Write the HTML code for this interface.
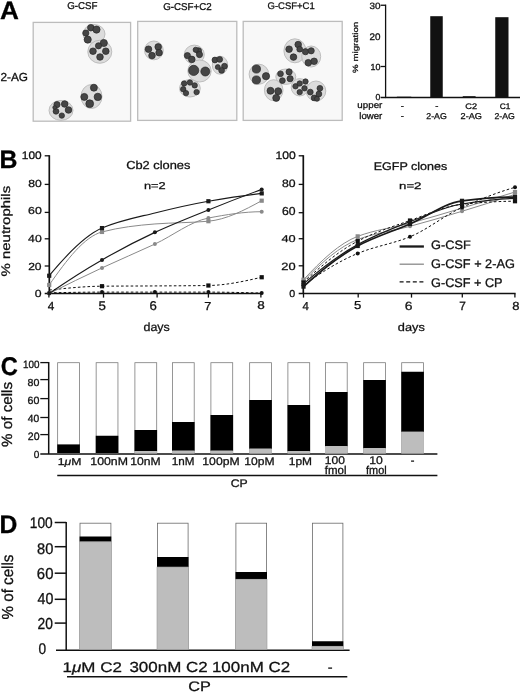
<!DOCTYPE html>
<html><head><meta charset="utf-8"><title>Figure</title>
<style>html,body{margin:0;padding:0;background:#fff;}svg{display:block;filter:grayscale(1);}</style></head>
<body><svg width="520" height="695" viewBox="0 0 520 695">
<defs><filter id="blur" x="-5%" y="-5%" width="110%" height="110%"><feGaussianBlur stdDeviation="0.45"/></filter></defs>
<rect width="520" height="695" fill="#fff"/>
<rect x="33.2" y="22.4" width="97.4" height="98.8" fill="#f8f8f8" stroke="#bcbcbc" stroke-width="1.3"/>
<rect x="137.7" y="21.4" width="99.1" height="99.0" fill="#f8f8f8" stroke="#bcbcbc" stroke-width="1.3"/>
<rect x="243.2" y="21.4" width="99.0" height="99.0" fill="#f8f8f8" stroke="#bcbcbc" stroke-width="1.3"/>
<g filter="url(#blur)">
<ellipse cx="94" cy="34" rx="11" ry="9.5" fill="#dcdcdc" stroke="#bdbdbd" stroke-width="1"/>
<ellipse cx="99.8" cy="51.75" rx="12" ry="11.5" fill="#dcdcdc" stroke="#bdbdbd" stroke-width="1"/>
<ellipse cx="91.5" cy="96.5" rx="10.5" ry="12" fill="#dcdcdc" stroke="#bdbdbd" stroke-width="1"/>
<ellipse cx="61" cy="110.4" rx="12" ry="10" fill="#dcdcdc" stroke="#bdbdbd" stroke-width="1"/>
<ellipse cx="153.9" cy="50.4" rx="9.4" ry="9.4" fill="#dcdcdc" stroke="#bdbdbd" stroke-width="1"/>
<ellipse cx="194.3" cy="54.6" rx="10" ry="9.5" fill="#dcdcdc" stroke="#bdbdbd" stroke-width="1"/>
<ellipse cx="199.5" cy="71" rx="11.7" ry="11" fill="#dcdcdc" stroke="#bdbdbd" stroke-width="1"/>
<ellipse cx="220" cy="65.2" rx="7.7" ry="9" fill="#dcdcdc" stroke="#bdbdbd" stroke-width="1"/>
<ellipse cx="189.9" cy="88.3" rx="10.4" ry="8.7" fill="#dcdcdc" stroke="#bdbdbd" stroke-width="1"/>
<ellipse cx="258.9" cy="74.2" rx="9.8" ry="10" fill="#dcdcdc" stroke="#bdbdbd" stroke-width="1"/>
<ellipse cx="273.7" cy="90.2" rx="9.3" ry="10.5" fill="#dcdcdc" stroke="#bdbdbd" stroke-width="1"/>
<ellipse cx="294.9" cy="50.8" rx="11" ry="12" fill="#dcdcdc" stroke="#bdbdbd" stroke-width="1"/>
<ellipse cx="311.2" cy="56.5" rx="9.5" ry="10.5" fill="#dcdcdc" stroke="#bdbdbd" stroke-width="1"/>
<ellipse cx="285.8" cy="76.7" rx="10" ry="7.7" fill="#dcdcdc" stroke="#bdbdbd" stroke-width="1"/>
<ellipse cx="299.7" cy="87.3" rx="8.5" ry="8.7" fill="#dcdcdc" stroke="#bdbdbd" stroke-width="1"/>
<ellipse cx="316" cy="91" rx="9.8" ry="10" fill="#dcdcdc" stroke="#bdbdbd" stroke-width="1"/>
<circle cx="90.8" cy="27.7" r="3.30" fill="#454545" stroke="#262626" stroke-width="0.7"/>
<circle cx="96.5" cy="29.6" r="3.60" fill="#454545" stroke="#262626" stroke-width="0.7"/>
<circle cx="85.8" cy="33.1" r="3.10" fill="#454545" stroke="#262626" stroke-width="0.7"/>
<circle cx="87.7" cy="39.6" r="3.60" fill="#454545" stroke="#262626" stroke-width="0.7"/>
<circle cx="103.8" cy="43" r="3.60" fill="#454545" stroke="#262626" stroke-width="0.7"/>
<circle cx="98.5" cy="45.8" r="3.10" fill="#454545" stroke="#262626" stroke-width="0.7"/>
<circle cx="93" cy="51.2" r="3.30" fill="#454545" stroke="#262626" stroke-width="0.7"/>
<circle cx="105.8" cy="51.2" r="3.30" fill="#454545" stroke="#262626" stroke-width="0.7"/>
<circle cx="100" cy="57" r="3.30" fill="#454545" stroke="#262626" stroke-width="0.7"/>
<circle cx="93.9" cy="87.7" r="3.50" fill="#454545" stroke="#262626" stroke-width="0.7"/>
<circle cx="84.3" cy="96.9" r="3.50" fill="#454545" stroke="#262626" stroke-width="0.7"/>
<circle cx="97.8" cy="96.9" r="3.70" fill="#454545" stroke="#262626" stroke-width="0.7"/>
<circle cx="89.7" cy="103.7" r="3.90" fill="#454545" stroke="#262626" stroke-width="0.7"/>
<circle cx="57" cy="104.6" r="3.10" fill="#454545" stroke="#262626" stroke-width="0.7"/>
<circle cx="64.7" cy="104" r="3.30" fill="#454545" stroke="#262626" stroke-width="0.7"/>
<circle cx="68.5" cy="110" r="3.30" fill="#454545" stroke="#262626" stroke-width="0.7"/>
<circle cx="56" cy="111.3" r="2.90" fill="#454545" stroke="#262626" stroke-width="0.7"/>
<circle cx="61.8" cy="115.6" r="2.70" fill="#454545" stroke="#262626" stroke-width="0.7"/>
<circle cx="54.7" cy="107.5" r="1.90" fill="#454545" stroke="#262626" stroke-width="0.7"/>
<circle cx="148.5" cy="49.2" r="3.30" fill="#454545" stroke="#262626" stroke-width="0.7"/>
<circle cx="152" cy="55.6" r="3.30" fill="#454545" stroke="#262626" stroke-width="0.7"/>
<circle cx="158.2" cy="46.9" r="3.30" fill="#454545" stroke="#262626" stroke-width="0.7"/>
<circle cx="159.1" cy="52.7" r="3.30" fill="#454545" stroke="#262626" stroke-width="0.7"/>
<circle cx="187.4" cy="55.6" r="3.10" fill="#454545" stroke="#262626" stroke-width="0.7"/>
<circle cx="191.8" cy="59.4" r="3.30" fill="#454545" stroke="#262626" stroke-width="0.7"/>
<circle cx="198.5" cy="50.8" r="3.10" fill="#454545" stroke="#262626" stroke-width="0.7"/>
<circle cx="199.5" cy="54.6" r="3.10" fill="#454545" stroke="#262626" stroke-width="0.7"/>
<circle cx="195.7" cy="49.8" r="2.60" fill="#454545" stroke="#262626" stroke-width="0.7"/>
<circle cx="193.7" cy="70.4" r="5.10" fill="#454545" stroke="#262626" stroke-width="0.7"/>
<circle cx="205.3" cy="71.5" r="4.50" fill="#454545" stroke="#262626" stroke-width="0.7"/>
<circle cx="214.9" cy="60" r="2.90" fill="#454545" stroke="#262626" stroke-width="0.7"/>
<circle cx="219.7" cy="59.4" r="2.90" fill="#454545" stroke="#262626" stroke-width="0.7"/>
<circle cx="224.5" cy="66.2" r="2.90" fill="#454545" stroke="#262626" stroke-width="0.7"/>
<circle cx="221.6" cy="70.4" r="2.90" fill="#454545" stroke="#262626" stroke-width="0.7"/>
<circle cx="217.8" cy="67.1" r="2.50" fill="#454545" stroke="#262626" stroke-width="0.7"/>
<circle cx="184.1" cy="83.5" r="2.70" fill="#454545" stroke="#262626" stroke-width="0.7"/>
<circle cx="189.9" cy="82.5" r="2.70" fill="#454545" stroke="#262626" stroke-width="0.7"/>
<circle cx="194.7" cy="85.4" r="2.70" fill="#454545" stroke="#262626" stroke-width="0.7"/>
<circle cx="183.2" cy="89.2" r="2.70" fill="#454545" stroke="#262626" stroke-width="0.7"/>
<circle cx="186" cy="93.1" r="2.70" fill="#454545" stroke="#262626" stroke-width="0.7"/>
<circle cx="196.6" cy="92.1" r="2.70" fill="#454545" stroke="#262626" stroke-width="0.7"/>
<circle cx="256.4" cy="69" r="4.10" fill="#454545" stroke="#262626" stroke-width="0.7"/>
<circle cx="266" cy="76.2" r="3.60" fill="#454545" stroke="#262626" stroke-width="0.7"/>
<circle cx="256.4" cy="80" r="4.10" fill="#454545" stroke="#262626" stroke-width="0.7"/>
<circle cx="270.5" cy="90.8" r="3.50" fill="#454545" stroke="#262626" stroke-width="0.7"/>
<circle cx="278.2" cy="91.2" r="3.50" fill="#454545" stroke="#262626" stroke-width="0.7"/>
<circle cx="276.2" cy="97.9" r="3.50" fill="#454545" stroke="#262626" stroke-width="0.7"/>
<circle cx="289.1" cy="49.2" r="3.30" fill="#454545" stroke="#262626" stroke-width="0.7"/>
<circle cx="298.2" cy="44.6" r="3.30" fill="#454545" stroke="#262626" stroke-width="0.7"/>
<circle cx="299.7" cy="49.2" r="2.90" fill="#454545" stroke="#262626" stroke-width="0.7"/>
<circle cx="293.5" cy="57.1" r="3.30" fill="#454545" stroke="#262626" stroke-width="0.7"/>
<circle cx="305.5" cy="51.7" r="3.10" fill="#454545" stroke="#262626" stroke-width="0.7"/>
<circle cx="311.2" cy="50.8" r="3.10" fill="#454545" stroke="#262626" stroke-width="0.7"/>
<circle cx="308.3" cy="62.7" r="3.30" fill="#454545" stroke="#262626" stroke-width="0.7"/>
<circle cx="314.1" cy="61.3" r="3.30" fill="#454545" stroke="#262626" stroke-width="0.7"/>
<circle cx="280.5" cy="73.8" r="2.90" fill="#454545" stroke="#262626" stroke-width="0.7"/>
<circle cx="289.1" cy="71.9" r="3.10" fill="#454545" stroke="#262626" stroke-width="0.7"/>
<circle cx="290.1" cy="78.7" r="3.10" fill="#454545" stroke="#262626" stroke-width="0.7"/>
<circle cx="282.4" cy="80.6" r="2.90" fill="#454545" stroke="#262626" stroke-width="0.7"/>
<circle cx="295.5" cy="86.3" r="2.70" fill="#454545" stroke="#262626" stroke-width="0.7"/>
<circle cx="299.7" cy="83.5" r="2.70" fill="#454545" stroke="#262626" stroke-width="0.7"/>
<circle cx="305.5" cy="81.5" r="2.70" fill="#454545" stroke="#262626" stroke-width="0.7"/>
<circle cx="299.7" cy="92.1" r="2.70" fill="#454545" stroke="#262626" stroke-width="0.7"/>
<circle cx="304.5" cy="88.3" r="2.70" fill="#454545" stroke="#262626" stroke-width="0.7"/>
<circle cx="310.3" cy="92.1" r="2.90" fill="#454545" stroke="#262626" stroke-width="0.7"/>
<circle cx="314.1" cy="97.9" r="2.90" fill="#454545" stroke="#262626" stroke-width="0.7"/>
<circle cx="318.9" cy="94" r="2.90" fill="#454545" stroke="#262626" stroke-width="0.7"/>
<circle cx="319.9" cy="88.3" r="2.90" fill="#454545" stroke="#262626" stroke-width="0.7"/>
<circle cx="317" cy="98.8" r="2.50" fill="#454545" stroke="#262626" stroke-width="0.7"/>
</g>
<path d="M385.6 4.6V98.1" stroke="#111" stroke-width="1.3" fill="none"/>
<path d="M380.6 5.25H385.6" stroke="#111" stroke-width="1.3"/>
<path d="M380.6 66.5H385.6" stroke="#111" stroke-width="1.3"/>
<path d="M380.6 97.5H520" stroke="#111" stroke-width="1.4"/>
<rect x="396.9" y="96.7" width="14.35" height="0.8" fill="#111"/>
<rect x="430.25" y="16.2" width="12.5" height="81.3" fill="#111"/>
<rect x="462.75" y="96.2" width="12.85" height="1.3" fill="#111"/>
<rect x="495.25" y="17.2" width="13.25" height="80.3" fill="#111"/>
<path d="M49.3 155.2V293.5" stroke="#111" stroke-width="1.7" fill="none"/>
<path d="M44.7 155.8H49.3" stroke="#111" stroke-width="1.3"/>
<path d="M44.7 184.4H49.3" stroke="#111" stroke-width="1.3"/>
<path d="M44.7 212.4H49.3" stroke="#111" stroke-width="1.3"/>
<path d="M44.7 238.8H49.3" stroke="#111" stroke-width="1.3"/>
<path d="M44.7 266H49.3" stroke="#111" stroke-width="1.3"/>
<path d="M44.7 293.5H262.9" stroke="#111" stroke-width="1.5"/>
<path d="M48.9 293.5V297.6" stroke="#111" stroke-width="1.3"/>
<path d="M103.5 293.5V297.6" stroke="#111" stroke-width="1.3"/>
<path d="M157.1 293.5V297.6" stroke="#111" stroke-width="1.3"/>
<path d="M208.4 293.5V297.6" stroke="#111" stroke-width="1.3"/>
<path d="M260.9 293.5V297.6" stroke="#111" stroke-width="1.3"/>
<path d="M303.3 155.2V293.5" stroke="#111" stroke-width="1.7" fill="none"/>
<path d="M298.7 155.8H303.3" stroke="#111" stroke-width="1.3"/>
<path d="M298.7 184.4H303.3" stroke="#111" stroke-width="1.3"/>
<path d="M298.7 212.7H303.3" stroke="#111" stroke-width="1.3"/>
<path d="M298.7 238.7H303.3" stroke="#111" stroke-width="1.3"/>
<path d="M298.7 265.8H303.3" stroke="#111" stroke-width="1.3"/>
<path d="M298.7 293.5H515.6" stroke="#111" stroke-width="1.5"/>
<path d="M303.5 293.5V297.6" stroke="#111" stroke-width="1.3"/>
<path d="M358.2 293.5V297.6" stroke="#111" stroke-width="1.3"/>
<path d="M411.5 293.5V297.6" stroke="#111" stroke-width="1.3"/>
<path d="M462.3 293.5V297.6" stroke="#111" stroke-width="1.3"/>
<path d="M514.9 293.5V297.6" stroke="#111" stroke-width="1.3"/>
<path d="M49.20 292.81C66.80 292.47 84.40 292.12 102.00 292.12C119.63 292.12 137.27 292.12 154.90 292.12C172.73 292.12 190.57 292.12 208.40 292.12C226.17 292.12 243.93 292.61 261.70 293.09" stroke="#111" stroke-width="1.0" fill="none" stroke-dasharray="2.6,2.2"/>
<circle cx="49.20" cy="292.81" r="2" fill="#111"/>
<circle cx="102.00" cy="292.12" r="2" fill="#111"/>
<circle cx="154.90" cy="292.12" r="2" fill="#111"/>
<circle cx="208.40" cy="292.12" r="2" fill="#111"/>
<circle cx="261.70" cy="293.09" r="2" fill="#111"/>
<path d="M49.20 290.06C66.80 288.18 84.40 286.37 102.00 286.20C119.63 286.03 137.27 286.04 154.90 285.93C172.73 285.82 190.57 285.78 208.40 285.51C226.17 285.25 243.93 281.31 261.70 277.25" stroke="#111" stroke-width="1.0" fill="none" stroke-dasharray="2.6,2.2"/>
<rect x="99.90" y="284.10" width="4.2" height="4.2" fill="#111"/>
<rect x="206.30" y="283.41" width="4.2" height="4.2" fill="#111"/>
<rect x="259.60" y="275.15" width="4.2" height="4.2" fill="#111"/>
<path d="M49.20 293.50C66.80 284.66 84.40 276.11 102.00 267.89C119.63 259.65 137.27 252.31 154.90 244.07C172.73 235.73 190.57 221.45 208.40 218.04C226.17 214.65 243.93 211.71 261.70 211.71" stroke="#8a8a8a" stroke-width="1.0" fill="none"/>
<circle cx="49.20" cy="293.50" r="2" fill="#8a8a8a"/>
<circle cx="102.00" cy="267.89" r="2" fill="#8a8a8a"/>
<circle cx="154.90" cy="244.07" r="2" fill="#8a8a8a"/>
<circle cx="208.40" cy="218.04" r="2" fill="#8a8a8a"/>
<circle cx="261.70" cy="211.71" r="2" fill="#8a8a8a"/>
<path d="M49.20 284.96C66.80 259.79 84.40 236.57 102.00 231.95C119.63 227.32 137.27 225.32 154.90 223.96C172.73 222.59 190.57 222.83 208.40 221.21C226.17 219.59 243.93 210.49 261.70 200.69" stroke="#8a8a8a" stroke-width="1.0" fill="none"/>
<rect x="47.10" y="282.86" width="4.2" height="4.2" fill="#8a8a8a"/>
<rect x="99.90" y="229.85" width="4.2" height="4.2" fill="#8a8a8a"/>
<rect x="206.30" y="219.11" width="4.2" height="4.2" fill="#8a8a8a"/>
<rect x="259.60" y="198.59" width="4.2" height="4.2" fill="#8a8a8a"/>
<path d="M49.20 293.50C66.80 281.28 84.40 269.98 102.00 259.90C119.63 249.80 137.27 240.56 154.90 232.36C172.73 224.07 190.57 217.08 208.40 209.92C226.17 202.78 243.93 195.93 261.70 189.40" stroke="#1a1a1a" stroke-width="1.15" fill="none"/>
<circle cx="49.20" cy="293.50" r="2" fill="#1a1a1a"/>
<circle cx="102.00" cy="259.90" r="2" fill="#1a1a1a"/>
<circle cx="154.90" cy="232.36" r="2" fill="#1a1a1a"/>
<circle cx="208.40" cy="209.92" r="2" fill="#1a1a1a"/>
<circle cx="261.70" cy="189.40" r="2" fill="#1a1a1a"/>
<path d="M49.20 275.74C66.80 254.44 84.40 235.74 102.00 228.09C119.63 220.43 137.27 217.32 154.90 212.95C172.73 208.52 190.57 204.38 208.40 201.24C226.17 198.11 243.93 195.37 261.70 193.39" stroke="#1a1a1a" stroke-width="1.15" fill="none"/>
<rect x="47.10" y="273.64" width="4.2" height="4.2" fill="#1a1a1a"/>
<rect x="99.90" y="225.99" width="4.2" height="4.2" fill="#1a1a1a"/>
<rect x="206.30" y="199.14" width="4.2" height="4.2" fill="#1a1a1a"/>
<rect x="259.60" y="191.29" width="4.2" height="4.2" fill="#1a1a1a"/>
<path d="M303.50 279.73C321.57 260.21 339.63 243.22 357.70 236.35C375.13 229.73 392.57 227.97 410.00 223.27C427.33 218.61 444.67 213.28 462.00 208.13C479.67 202.87 497.33 197.50 515.00 192.02" stroke="#8a8a8a" stroke-width="1.0" fill="none"/>
<rect x="301.40" y="277.63" width="4.2" height="4.2" fill="#8a8a8a"/>
<rect x="355.60" y="234.25" width="4.2" height="4.2" fill="#8a8a8a"/>
<rect x="407.90" y="221.17" width="4.2" height="4.2" fill="#8a8a8a"/>
<rect x="459.90" y="206.03" width="4.2" height="4.2" fill="#8a8a8a"/>
<rect x="512.90" y="189.92" width="4.2" height="4.2" fill="#8a8a8a"/>
<path d="M303.50 281.11C321.57 262.51 339.63 246.37 357.70 239.52C375.13 232.91 392.57 231.00 410.00 226.30C427.33 221.63 444.67 216.55 462.00 211.29C479.67 205.94 497.33 200.28 515.00 194.36" stroke="#8a8a8a" stroke-width="1.0" fill="none"/>
<circle cx="303.50" cy="281.11" r="2" fill="#8a8a8a"/>
<circle cx="357.70" cy="239.52" r="2" fill="#8a8a8a"/>
<circle cx="410.00" cy="226.30" r="2" fill="#8a8a8a"/>
<circle cx="462.00" cy="211.29" r="2" fill="#8a8a8a"/>
<circle cx="515.00" cy="194.36" r="2" fill="#8a8a8a"/>
<path d="M303.50 282.48C321.57 265.34 339.63 250.56 357.70 241.17C375.13 232.12 392.57 226.60 410.00 220.52C427.33 214.47 444.67 205.95 462.00 204.27C479.67 202.56 497.33 201.24 515.00 201.24" stroke="#111" stroke-width="1.0" fill="none" stroke-dasharray="2.6,2.2"/>
<rect x="301.40" y="280.38" width="4.2" height="4.2" fill="#111"/>
<rect x="355.60" y="239.07" width="4.2" height="4.2" fill="#111"/>
<rect x="407.90" y="218.42" width="4.2" height="4.2" fill="#111"/>
<rect x="459.90" y="202.17" width="4.2" height="4.2" fill="#111"/>
<rect x="512.90" y="199.14" width="4.2" height="4.2" fill="#111"/>
<path d="M303.50 285.24C321.57 272.17 339.63 260.88 357.70 253.43C375.13 246.24 392.57 243.87 410.00 236.77C427.33 229.71 444.67 215.30 462.00 207.44C479.67 199.42 497.33 192.39 515.00 187.33" stroke="#111" stroke-width="1.0" fill="none" stroke-dasharray="2.6,2.2"/>
<circle cx="303.50" cy="285.24" r="2" fill="#111"/>
<circle cx="357.70" cy="253.43" r="2" fill="#111"/>
<circle cx="410.00" cy="236.77" r="2" fill="#111"/>
<circle cx="462.00" cy="207.44" r="2" fill="#111"/>
<circle cx="515.00" cy="187.33" r="2" fill="#111"/>
<path d="M303.50 286.62C321.57 270.06 339.63 255.72 357.70 245.99C375.13 236.61 392.57 231.51 410.00 223.96C427.33 216.46 444.67 202.93 462.00 200.83C479.67 198.68 497.33 197.11 515.00 197.11" stroke="#1a1a1a" stroke-width="1.7" fill="none"/>
<rect x="301.40" y="284.51" width="4.2" height="4.2" fill="#1a1a1a"/>
<rect x="355.60" y="243.89" width="4.2" height="4.2" fill="#1a1a1a"/>
<rect x="407.90" y="221.86" width="4.2" height="4.2" fill="#1a1a1a"/>
<rect x="459.90" y="198.73" width="4.2" height="4.2" fill="#1a1a1a"/>
<rect x="512.90" y="195.01" width="4.2" height="4.2" fill="#1a1a1a"/>
<path d="M303.50 283.86C321.57 268.16 339.63 254.49 357.70 244.62C375.13 235.09 392.57 228.29 410.00 221.62C427.33 214.99 444.67 206.76 462.00 204.00C479.67 201.18 497.33 198.49 515.00 198.49" stroke="#1a1a1a" stroke-width="1.2" fill="none"/>
<circle cx="303.50" cy="283.86" r="2" fill="#1a1a1a"/>
<circle cx="357.70" cy="244.62" r="2" fill="#1a1a1a"/>
<circle cx="410.00" cy="221.62" r="2" fill="#1a1a1a"/>
<circle cx="462.00" cy="204.00" r="2" fill="#1a1a1a"/>
<circle cx="515.00" cy="198.49" r="2" fill="#1a1a1a"/>
<path d="M399.6 246.5H423.9" stroke="#1a1a1a" stroke-width="2.3"/>
<path d="M399.6 264.2H423.9" stroke="#8a8a8a" stroke-width="1.3"/>
<path d="M399.6 281.9H423.9" stroke="#111" stroke-width="1.3" stroke-dasharray="4,2.6"/>
<path d="M48.7 362H48.7V454" stroke="#111" stroke-width="1.5" fill="none"/>
<path d="M40.3 362.6H48.7" stroke="#111" stroke-width="1.3"/>
<path d="M40.3 379.6H48.7" stroke="#111" stroke-width="1.3"/>
<path d="M40.3 398.6H48.7" stroke="#111" stroke-width="1.3"/>
<path d="M40.3 417.5H48.7" stroke="#111" stroke-width="1.3"/>
<path d="M40.3 434.6H48.7" stroke="#111" stroke-width="1.3"/>
<path d="M40.3 454H437.4" stroke="#111" stroke-width="1.5"/>
<rect x="57.65" y="362.7" width="21.8" height="90.6" fill="#fff" stroke="#7c7c7c" stroke-width="0.8"/>
<rect x="57.25" y="444.4" width="22.6" height="8.9" fill="#000"/>
<rect x="96.15" y="362.7" width="21.8" height="90.6" fill="#fff" stroke="#7c7c7c" stroke-width="0.8"/>
<rect x="95.75" y="435.75" width="22.6" height="17.55" fill="#000"/>
<rect x="134.9" y="362.7" width="21.8" height="90.6" fill="#fff" stroke="#7c7c7c" stroke-width="0.8"/>
<rect x="134.5" y="430" width="22.6" height="21.2" fill="#000"/>
<rect x="134.5" y="451.2" width="22.6" height="2.1" fill="#bdbdbd"/>
<rect x="172.4" y="362.7" width="21.8" height="90.6" fill="#fff" stroke="#7c7c7c" stroke-width="0.8"/>
<rect x="172" y="422" width="22.6" height="28.75" fill="#000"/>
<rect x="172" y="450.75" width="22.6" height="2.55" fill="#bdbdbd"/>
<rect x="210.9" y="362.7" width="21.8" height="90.6" fill="#fff" stroke="#7c7c7c" stroke-width="0.8"/>
<rect x="210.5" y="415" width="22.6" height="35.75" fill="#000"/>
<rect x="210.5" y="450.75" width="22.6" height="2.55" fill="#bdbdbd"/>
<rect x="249.65" y="362.7" width="21.8" height="90.6" fill="#fff" stroke="#7c7c7c" stroke-width="0.8"/>
<rect x="249.25" y="400" width="22.6" height="48.75" fill="#000"/>
<rect x="249.25" y="448.75" width="22.6" height="4.55" fill="#bdbdbd"/>
<rect x="287.9" y="362.7" width="21.8" height="90.6" fill="#fff" stroke="#7c7c7c" stroke-width="0.8"/>
<rect x="287.5" y="405" width="22.6" height="46.25" fill="#000"/>
<rect x="287.5" y="451.25" width="22.6" height="2.05" fill="#bdbdbd"/>
<rect x="325.4" y="362.7" width="21.8" height="90.6" fill="#fff" stroke="#7c7c7c" stroke-width="0.8"/>
<rect x="325" y="392" width="22.6" height="54.25" fill="#000"/>
<rect x="325" y="446.25" width="22.6" height="7.05" fill="#bdbdbd"/>
<rect x="363.65" y="362.7" width="21.8" height="90.6" fill="#fff" stroke="#7c7c7c" stroke-width="0.8"/>
<rect x="363.25" y="380" width="22.6" height="68.25" fill="#000"/>
<rect x="363.25" y="448.25" width="22.6" height="5.05" fill="#bdbdbd"/>
<rect x="401.7" y="362.7" width="21.8" height="90.6" fill="#fff" stroke="#7c7c7c" stroke-width="0.8"/>
<rect x="401.3" y="371.75" width="22.6" height="60.05" fill="#000"/>
<rect x="401.3" y="431.8" width="22.6" height="21.5" fill="#bdbdbd"/>
<path d="M57.25 475.6H437.4" stroke="#111" stroke-width="1.5"/>
<path d="M66.2 522V650.3" stroke="#111" stroke-width="1.5" fill="none"/>
<path d="M54.7 522.5H66.2" stroke="#111" stroke-width="1.5"/>
<path d="M54.7 546.7H66.2" stroke="#111" stroke-width="1.5"/>
<path d="M54.7 573.2H66.2" stroke="#111" stroke-width="1.5"/>
<path d="M54.7 599.3H66.2" stroke="#111" stroke-width="1.5"/>
<path d="M54.7 623.1H66.2" stroke="#111" stroke-width="1.5"/>
<path d="M56 650.3H349.6" stroke="#111" stroke-width="1.5"/>
<rect x="80.0" y="523.2" width="30.9" height="126.4" fill="#fff" stroke="#6a6a6a" stroke-width="0.8"/>
<rect x="79.6" y="536.5" width="31.7" height="5.3" fill="#000"/>
<rect x="79.6" y="541.8" width="31.7" height="107.8" fill="#bdbdbd" stroke="#9a9a9a" stroke-width="0.6"/>
<rect x="157.4" y="523.2" width="30.7" height="126.4" fill="#fff" stroke="#6a6a6a" stroke-width="0.8"/>
<rect x="157" y="557" width="31.5" height="10" fill="#000"/>
<rect x="157" y="567" width="31.5" height="82.6" fill="#bdbdbd" stroke="#9a9a9a" stroke-width="0.6"/>
<rect x="235.9" y="523.2" width="30.7" height="126.4" fill="#fff" stroke="#6a6a6a" stroke-width="0.8"/>
<rect x="235.5" y="572" width="31.5" height="7.25" fill="#000"/>
<rect x="235.5" y="579.25" width="31.5" height="70.35" fill="#bdbdbd" stroke="#9a9a9a" stroke-width="0.6"/>
<rect x="312.4" y="523.2" width="30.5" height="126.4" fill="#fff" stroke="#6a6a6a" stroke-width="0.8"/>
<rect x="312" y="641.25" width="31.3" height="5.0" fill="#000"/>
<rect x="312" y="646.25" width="31.3" height="3.35" fill="#bdbdbd" stroke="#9a9a9a" stroke-width="0.6"/>
<path d="M67 676.7H347.3" stroke="#111" stroke-width="1.6"/>
<g font-family="Liberation Sans" font-size="40" text-rendering="geometricPrecision">
<text transform="translate(0.092,18.598) scale(0.654,0.627)" fill="#000" stroke="#000" stroke-width="0.468" font-weight="bold">A</text>
<text transform="translate(-0.483,167.728) scale(0.621,0.635)" fill="#000" stroke="#000" stroke-width="0.478" font-weight="bold">B</text>
<text transform="translate(0.762,375.024) scale(0.591,0.643)" fill="#000" stroke="#000" stroke-width="0.486" font-weight="bold">C</text>
<text transform="translate(-0.521,533.468) scale(0.617,0.635)" fill="#000" stroke="#000" stroke-width="0.479" font-weight="bold">D</text>
<text transform="translate(67.184,8.627) scale(0.244,0.248)" fill="#111" stroke="#111" stroke-width="1.22">G-CSF</text>
<text transform="translate(163.183,10.474) scale(0.244,0.248)" fill="#111" stroke="#111" stroke-width="1.22">G-CSF+C2</text>
<text transform="translate(267.519,8.624) scale(0.237,0.239)" fill="#111" stroke="#111" stroke-width="1.261">G-CSF+C1</text>
<text transform="translate(0.5,80.994) scale(0.295,0.292)" fill="#111" stroke="#111" stroke-width="1.022">2-AG</text>
<text transform="translate(358.075,72.879) rotate(-90) scale(0.242,0.188)" fill="#111" stroke="#111" stroke-width="1.395">% migration</text>
<text transform="translate(369.421,8.529) scale(0.248,0.228)" fill="#111" stroke="#111" stroke-width="1.261">30</text>
<text transform="translate(369.533,39.624) scale(0.246,0.239)" fill="#111" stroke="#111" stroke-width="1.237">20</text>
<text transform="translate(370.412,70.474) scale(0.224,0.222)" fill="#111" stroke="#111" stroke-width="1.345">10</text>
<text transform="translate(375.409,100.167) scale(0.218,0.215)" fill="#111" stroke="#111" stroke-width="1.386">0</text>
<text transform="translate(357.374,107.692) scale(0.244,0.224)" fill="#111" stroke="#111" stroke-width="1.282">upper</text>
<text transform="translate(359.353,119.234) scale(0.24,0.235)" fill="#111" stroke="#111" stroke-width="1.263">lower</text>
<text transform="translate(400.677,109.244) scale(0.237)" fill="#111" stroke="#111" stroke-width="1.266">-</text>
<text transform="translate(400.677,118.994) scale(0.237)" fill="#111" stroke="#111" stroke-width="1.266">-</text>
<text transform="translate(435.128,108.994) scale(0.237)" fill="#111" stroke="#111" stroke-width="1.266">-</text>
<text transform="translate(465.238,109.474) scale(0.23,0.201)" fill="#111" stroke="#111" stroke-width="1.392">C2</text>
<text transform="translate(499.746,109.474) scale(0.208,0.199)" fill="#111" stroke="#111" stroke-width="1.474">C1</text>
<text transform="translate(426.236,118.514) scale(0.22,0.212)" fill="#111" stroke="#111" stroke-width="1.389">2-AG</text>
<text transform="translate(460.597,118.624) scale(0.229,0.213)" fill="#111" stroke="#111" stroke-width="1.357">2-AG</text>
<text transform="translate(494.421,118.624) scale(0.218,0.212)" fill="#111" stroke="#111" stroke-width="1.395">2-AG</text>
<text transform="translate(9.597,276.497) rotate(-90) scale(0.374,0.311)" fill="#111" stroke="#111" stroke-width="0.876">% neutrophils</text>
<text transform="translate(21.844,159.234) scale(0.297,0.273)" fill="#111" stroke="#111" stroke-width="1.053">100</text>
<text transform="translate(28.148,187.474) scale(0.303,0.256)" fill="#111" stroke="#111" stroke-width="1.073">80</text>
<text transform="translate(28.082,213.524) scale(0.309,0.253)" fill="#111" stroke="#111" stroke-width="1.068">60</text>
<text transform="translate(28.121,242.046) scale(0.306,0.255)" fill="#111" stroke="#111" stroke-width="1.07">40</text>
<text transform="translate(28.14,269.624) scale(0.302,0.257)" fill="#111" stroke="#111" stroke-width="1.073">20</text>
<text transform="translate(34.809,297.068) scale(0.306,0.257)" fill="#111" stroke="#111" stroke-width="1.066">0</text>
<text transform="translate(275.467,159.234) scale(0.303,0.273)" fill="#111" stroke="#111" stroke-width="1.042">100</text>
<text transform="translate(282.035,187.254) scale(0.306,0.268)" fill="#111" stroke="#111" stroke-width="1.045">80</text>
<text transform="translate(282.062,215.287) scale(0.305,0.286)" fill="#111" stroke="#111" stroke-width="1.015">60</text>
<text transform="translate(281.42,242.494) scale(0.32,0.249)" fill="#111" stroke="#111" stroke-width="1.054">40</text>
<text transform="translate(281.329,269.514) scale(0.321,0.264)" fill="#111" stroke="#111" stroke-width="1.026">20</text>
<text transform="translate(289.265,297.329) scale(0.267,0.25)" fill="#111" stroke="#111" stroke-width="1.161">0</text>
<text transform="translate(47.645,309.572) scale(0.296,0.295)" fill="#111" stroke="#111" stroke-width="1.015">4</text>
<text transform="translate(98.623,309.62) scale(0.332,0.315)" fill="#111" stroke="#111" stroke-width="0.927">5</text>
<text transform="translate(149.482,309.62) scale(0.329,0.318)" fill="#111" stroke="#111" stroke-width="0.927">6</text>
<text transform="translate(204.342,310.495) scale(0.319,0.29)" fill="#111" stroke="#111" stroke-width="0.985">7</text>
<text transform="translate(257.153,309.249) scale(0.338,0.284)" fill="#111" stroke="#111" stroke-width="0.965">8</text>
<text transform="translate(302.586,309.549) scale(0.286,0.289)" fill="#111" stroke="#111" stroke-width="1.043">4</text>
<text transform="translate(354.095,309.255) scale(0.327,0.29)" fill="#111" stroke="#111" stroke-width="0.972">5</text>
<text transform="translate(404.763,310.17) scale(0.347,0.298)" fill="#111" stroke="#111" stroke-width="0.93">6</text>
<text transform="translate(459.225,310.305) scale(0.297,0.301)" fill="#111" stroke="#111" stroke-width="1.003">7</text>
<text transform="translate(512.155,310.154) scale(0.324,0.294)" fill="#111" stroke="#111" stroke-width="0.971">8</text>
<text transform="translate(143.48,330.515) scale(0.312,0.295)" fill="#111" stroke="#111" stroke-width="0.988">days</text>
<text transform="translate(397.844,330.949) scale(0.319,0.283)" fill="#111" stroke="#111" stroke-width="0.997">days</text>
<text transform="translate(126.125,169.234) scale(0.321,0.289)" fill="#111" stroke="#111" stroke-width="0.984">Cb2 clones</text>
<text transform="translate(143.989,189.234) scale(0.32,0.247)" fill="#111" stroke="#111" stroke-width="1.058">n=2</text>
<text transform="translate(373.728,169.514) scale(0.313,0.278)" fill="#111" stroke="#111" stroke-width="1.015">EGFP clones</text>
<text transform="translate(399.074,189.234) scale(0.33,0.238)" fill="#111" stroke="#111" stroke-width="1.056">n=2</text>
<text transform="translate(431.023,249.277) scale(0.319,0.304)" fill="#111" stroke="#111" stroke-width="0.963">G-CSF</text>
<text transform="translate(431.023,267.761) scale(0.318,0.317)" fill="#111" stroke="#111" stroke-width="0.945">G-CSF + 2-AG</text>
<text transform="translate(431.041,287.238) scale(0.317,0.317)" fill="#111" stroke="#111" stroke-width="0.946">G-CSF + CP</text>
<text transform="translate(11.73,446.877) rotate(-90) scale(0.379,0.37)" fill="#111" stroke="#111" stroke-width="0.801">% of cells</text>
<text transform="translate(22.938,368.474) scale(0.246,0.264)" fill="#111" stroke="#111" stroke-width="1.176">100</text>
<text transform="translate(27.564,385.734) scale(0.266,0.252)" fill="#111" stroke="#111" stroke-width="1.158">80</text>
<text transform="translate(27.579,404.069) scale(0.266,0.263)" fill="#111" stroke="#111" stroke-width="1.134">60</text>
<text transform="translate(27.871,422.335) scale(0.257,0.263)" fill="#111" stroke="#111" stroke-width="1.154">40</text>
<text transform="translate(27.76,440.474) scale(0.264,0.269)" fill="#111" stroke="#111" stroke-width="1.126">20</text>
<text transform="translate(33.826,457.809) scale(0.251,0.256)" fill="#111" stroke="#111" stroke-width="1.183">0</text>
<text transform="translate(57.816,465.027) scale(0.305,0.25)" fill="#111" stroke="#111" stroke-width="1.081">1<tspan font-style="italic">μ</tspan>M</text>
<text transform="translate(90.316,464.974) scale(0.308,0.277)" fill="#111" stroke="#111" stroke-width="1.026">100nM</text>
<text transform="translate(130.335,464.974) scale(0.304,0.277)" fill="#111" stroke="#111" stroke-width="1.033">10nM</text>
<text transform="translate(171.848,464.974) scale(0.292,0.28)" fill="#111" stroke="#111" stroke-width="1.049">1nM</text>
<text transform="translate(202.305,464.911) scale(0.305,0.275)" fill="#111" stroke="#111" stroke-width="1.034">100pM</text>
<text transform="translate(244.317,464.892) scale(0.303,0.275)" fill="#111" stroke="#111" stroke-width="1.038">10pM</text>
<text transform="translate(288.79,464.529) scale(0.299,0.275)" fill="#111" stroke="#111" stroke-width="1.045">1pM</text>
<text transform="translate(324.788,464.124) scale(0.3,0.277)" fill="#111" stroke="#111" stroke-width="1.04">100</text>
<text transform="translate(324.833,474.13) scale(0.286,0.289)" fill="#111" stroke="#111" stroke-width="1.043">fmol</text>
<text transform="translate(369.282,464.124) scale(0.305,0.277)" fill="#111" stroke="#111" stroke-width="1.031">10</text>
<text transform="translate(366.1,474.124) scale(0.272,0.287)" fill="#111" stroke="#111" stroke-width="1.073">fmol</text>
<text transform="translate(410.634,464.182) scale(0.275)" fill="#111" stroke="#111" stroke-width="1.091">-</text>
<text transform="translate(230.669,486.989) scale(0.306,0.276)" fill="#111" stroke="#111" stroke-width="1.031">CP</text>
<text transform="translate(12.624,619.458) rotate(-90) scale(0.379,0.397)" fill="#111" stroke="#111" stroke-width="0.773">% of cells</text>
<text transform="translate(29.751,527.567) scale(0.344,0.383)" fill="#111" stroke="#111" stroke-width="0.825">100</text>
<text transform="translate(37.095,553.843) scale(0.366,0.388)" fill="#111" stroke="#111" stroke-width="0.796">80</text>
<text transform="translate(36.829,578.623) scale(0.373,0.395)" fill="#111" stroke="#111" stroke-width="0.781">60</text>
<text transform="translate(37.573,603.874) scale(0.355,0.396)" fill="#111" stroke="#111" stroke-width="0.799">40</text>
<text transform="translate(37.536,628.75) scale(0.345,0.399)" fill="#111" stroke="#111" stroke-width="0.806">20</text>
<text transform="translate(38.519,653.573) scale(0.342,0.387)" fill="#111" stroke="#111" stroke-width="0.823">0</text>
<text transform="translate(62.598,671.557) scale(0.424,0.35)" fill="#111" stroke="#111" stroke-width="0.775">1<tspan font-style="italic">μ</tspan>M C2</text>
<text transform="translate(129.405,672.155) scale(0.424,0.364)" fill="#111" stroke="#111" stroke-width="0.761">300nM C2</text>
<text transform="translate(211.907,672.146) scale(0.424,0.364)" fill="#111" stroke="#111" stroke-width="0.761">100nM C2</text>
<text transform="translate(327.635,672.302) scale(0.362)" fill="#111" stroke="#111" stroke-width="0.829">-</text>
<text transform="translate(188.184,690.92) scale(0.407,0.345)" fill="#111" stroke="#111" stroke-width="0.798">CP</text>
</g>
</svg></body></html>
